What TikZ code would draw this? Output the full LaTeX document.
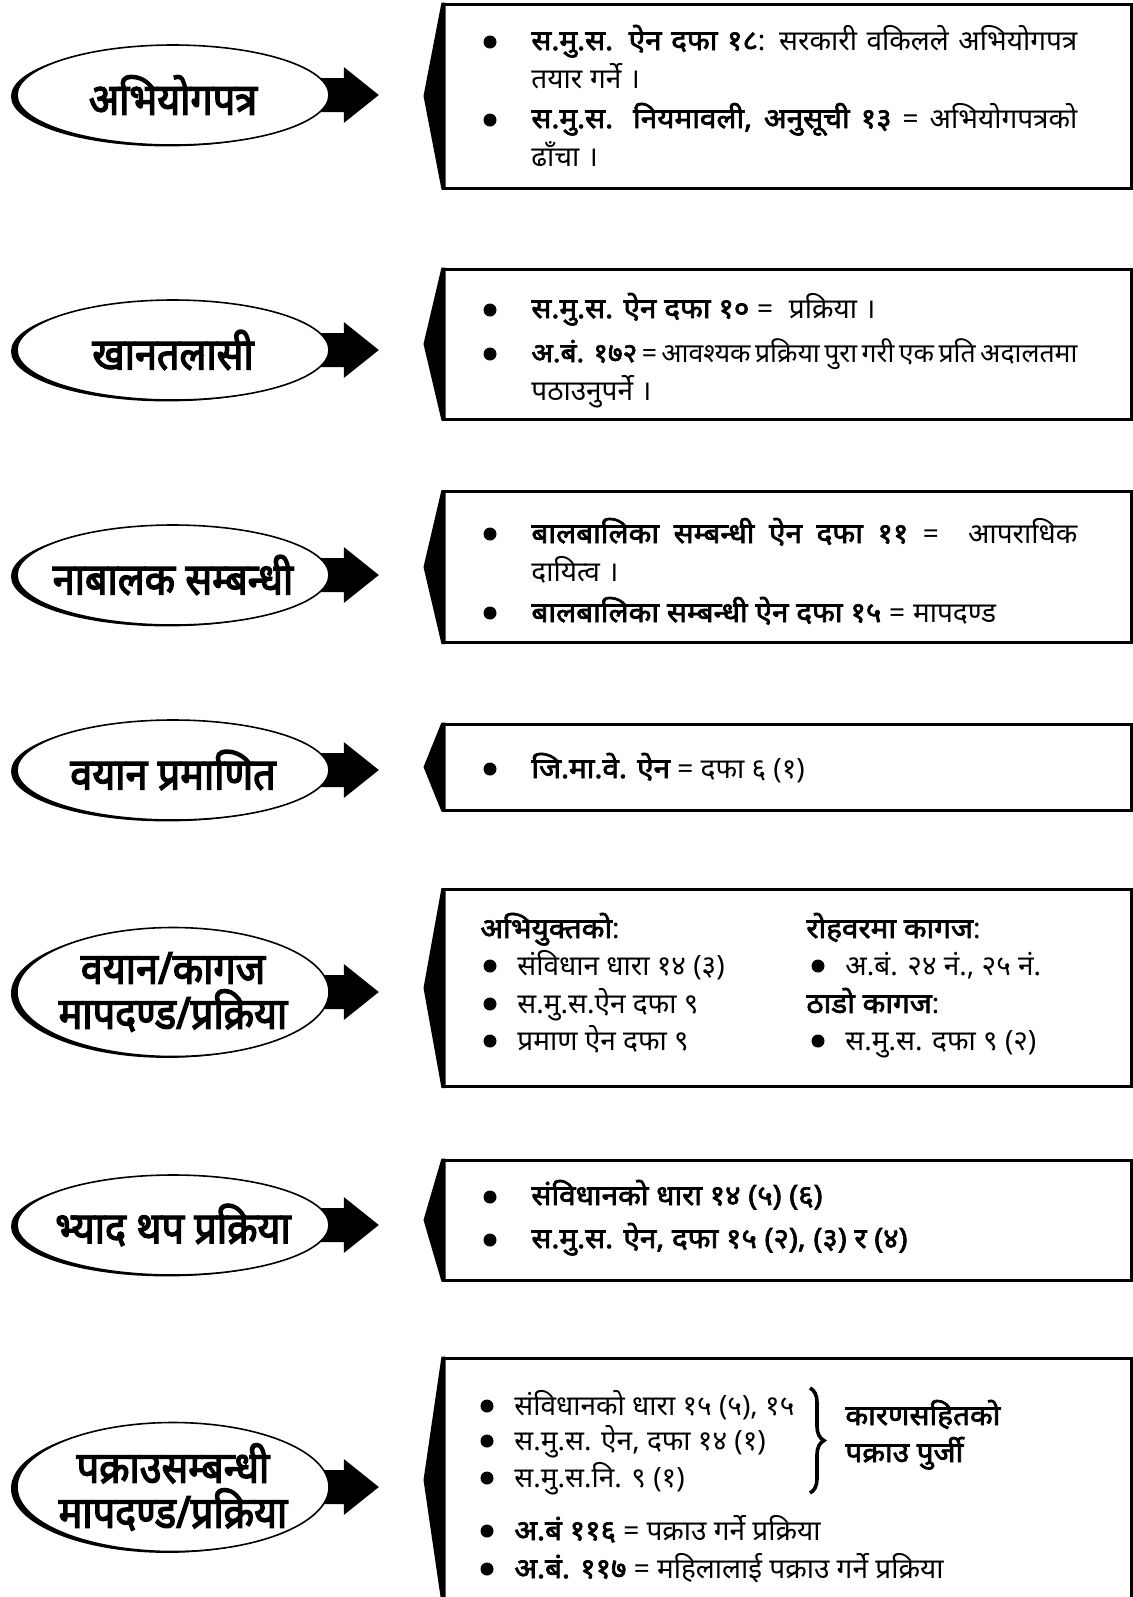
\documentclass[tikz,border=0pt]{standalone}
\usepackage{fontspec}
\setmainfont[Script=Devanagari]{Noto Sans}
\newfontfamily\hb[Script=Devanagari,FakeStretch=1.06,FakeBold=2.5]{Noto Sans}
\newfontfamily\hl[Script=Devanagari,FakeStretch=0.9,FakeBold=3]{Noto Sans}
\newcommand\bld[1]{{\hb #1}}
\usetikzlibrary{shapes.geometric,shadows,decorations.pathreplacing,backgrounds}
\begin{document}
\begin{tikzpicture}[x=0.5pt,y=-0.5pt,
  oval/.style={ellipse,draw,fill=white,line width=0.8pt,minimum width=156pt,minimum height=#1,inner sep=0pt,
    general shadow={fill=black,shadow xshift=-3pt,shadow yshift=-0.7pt}},
  lab/.style={align=center,inner sep=0pt,font=\hl\fontsize{22}{22.5}\selectfont},
  card/.style={draw,line width=1.5pt,minimum width=344pt,minimum height=#1,inner sep=0pt},
  itm/.style={anchor=base west,inner sep=0pt,text width=273pt,align=justify,font=\fontsize{14}{19}\selectfont,
    execute at begin node={\spaceskip=.28em plus .8em minus .12em}},
  txt/.style={anchor=base west,inner sep=0pt,font=\fontsize{14}{19}\selectfont},
  dot/.style={circle,fill,inner sep=0pt,minimum size=6.5pt},
  brc/.style={decorate,decoration={brace,amplitude=7pt},line width=1.8pt}]
\useasboundingbox (0,0) rectangle (1133,1597);
% ovals, arrows and boxes
\foreach \i/\ey/\eh/\by/\bh/\txt in {
  1/95/50pt/96/92pt/{अभियोगपत्र},
  2/350/50pt/344/75pt/{खानतलासी},
  3/575/50pt/567/75.5pt/{नाबालक सम्बन्धी},
  4/770/50pt/767/43pt/{वयान प्रमाणित},
  5/992/64.5pt/988/98.5pt/{वयान/कागज\\मापदण्ड/प्रक्रिया},
  6/1225/50pt/1220/60pt/{भ्याद थप प्रक्रिया},
  7/1487/64.5pt/1480/122pt/{पक्राउसम्बन्धी\\मापदण्ड/प्रक्रिया}}{
  \node[oval=\eh] (e\i) at (173,\ey) {};
  \node[lab] (l\i) at (e\i) {\txt};
  \begin{pgfonlayer}{background}
    \fill ([xshift=-10pt]e\i.east) ++(0,-17) -- ++(34,0) -- ++(0,-11) -- ++(35,28)
      -- ++(-35,28) -- ++(0,-11) -- ++(-34,0) -- cycle;
  \end{pgfonlayer}
  \node[card=\bh] (b\i) at (787,\by) {};
  \fill ([xshift=2pt]b\i.north west) -- (b\i.north west) -- ([xshift=-9pt]b\i.west)
    -- (b\i.south west) -- ([xshift=2pt]b\i.south west) -- cycle;
}
% row 1
\node[dot] (d11) at (490,42) {};
\node[itm] (t11) at (531,50) {\bld{स.मु.स. ऐन दफा १८}: सरकारी वकिलले अभियोगपत्र\linebreak तयार गर्ने ।};
\node[dot] (d12) at (490,120) {};
\node[itm] (t12) at (531,128) {\bld{स.मु.स. नियमावली, अनुसूची १३} = अभियोगपत्रको\linebreak ढाँचा ।};
% row 2
\node[dot] (d21) at (490,310) {};
\node[itm] (t21) at (531,318) {\bld{स.मु.स. ऐन दफा १०} = \ प्रक्रिया ।};
\node[dot] (d22) at (490,354) {};
\node[itm] (t22) at (531,362) {\makebox[\linewidth][s]{\fontsize{13.3}{19}\selectfont\bld{अ.बं. १७२} = आवश्यक प्रक्रिया पुरा गरी एक प्रति अदालतमा}\newline पठाउनुपर्ने ।};
% row 3
\node[dot] (d31) at (490,534) {};
\node[itm] (t31) at (531,543) {\bld{बालबालिका सम्बन्धी ऐन दफा ११} = \ आपराधिक\linebreak दायित्व ।};
\node[dot] (d32) at (490,613) {};
\node[itm] (t32) at (531,622) {\bld{बालबालिका सम्बन्धी ऐन दफा १५} = मापदण्ड};
% row 4
\node[dot] (d41) at (490,769) {};
\node[txt] (t41) at (531,778) {\bld{जि.मा.वे. ऐन} = दफा ६ (१)};
% row 5
\node[txt] (h51) at (480,938) {\bld{अभियुक्तको}:};
\node[dot] (d51) at (490,966) {};
\node[txt] (t51) at (517,975) {संविधान धारा १४ (३)};
\node[dot] (d52) at (490,1004) {};
\node[txt] (t52) at (517,1013) {स.मु.स.ऐन दफा ९};
\node[dot] (d53) at (490,1041) {};
\node[txt] (t53) at (517,1050) {प्रमाण ऐन दफा ९};
\node[txt] (h52) at (806,938) {\bld{रोहवरमा कागज}:};
\node[dot] (d54) at (818,966) {};
\node[txt] (t54) at (845,975) {अ.बं. २४ नं., २५ नं.};
\node[txt] (h53) at (806,1013) {\bld{ठाडो कागज}:};
\node[dot] (d55) at (818,1041) {};
\node[txt] (t55) at (845,1050) {स.मु.स. दफा ९ (२)};
% row 6
\node[dot] (d61) at (490,1197) {};
\node[txt] (t61) at (531,1205) {\bld{संविधानको धारा १४ (५) (६)}};
\node[dot] (d62) at (490,1240) {};
\node[txt] (t62) at (531,1248) {\bld{स.मु.स. ऐन, दफा १५ (२), (३) र (४)}};
% row 7
\node[dot] (d71) at (487,1406) {};
\node[txt] (t71) at (514,1415) {संविधानको धारा १५ (५), १५};
\node[dot] (d72) at (487,1441) {};
\node[txt] (t72) at (514,1450) {स.मु.स. ऐन, दफा १४ (१)};
\node[dot] (d73) at (487,1478) {};
\node[txt] (t73) at (514,1487) {स.मु.स.नि. ९ (१)};
\coordinate (br1) at (810,1388);
\coordinate (br2) at (810,1493);
\draw[brc] (br1) -- (br2);
\node[txt] (k71) at (845,1425) {\bld{कारणसहितको}};
\node[txt] (k72) at (845,1462) {\bld{पक्राउ पुर्जी}};
\node[dot] (d74) at (487,1531) {};
\node[txt] (t74) at (514,1540) {\bld{अ.बं ११६} = पक्राउ गर्ने प्रक्रिया};
\node[dot] (d75) at (487,1569) {};
\node[txt] (t75) at (514,1578) {\bld{अ.बं. ११७} = महिलालाई पक्राउ गर्ने प्रक्रिया};
\end{tikzpicture}
\end{document}
